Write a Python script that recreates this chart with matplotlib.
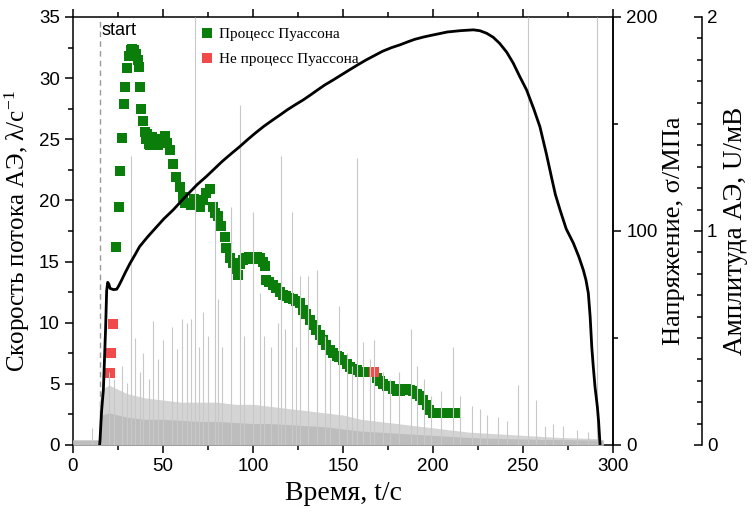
import numpy as np
import matplotlib.pyplot as plt
from matplotlib.ticker import MultipleLocator

plt.rcParams['font.family'] = ['Liberation Sans', 'DejaVu Sans']
plt.rcParams['mathtext.fontset'] = 'custom'
plt.rcParams['mathtext.rm'] = 'Liberation Serif'
plt.rcParams['mathtext.it'] = 'Liberation Serif:italic'

SERIF = ['Liberation Serif', 'DejaVu Serif']

# Poisson process flow rate (t, rate)
poisson_t = [24.1, 25.4, 26.1, 27.2, 28.3, 29.1, 30.2, 31.0, 32.0, 33.0, 34.0, 35.0, 36.0,
             36.7, 37.4, 38.0, 38.9, 39.8, 40.8, 41.0, 42.0, 43.0, 44.0, 44.5, 46.0, 47.5,
             48.0, 49.0, 50.5, 51.0, 52.0, 53.7, 55.6, 57.4, 59.3, 61.1, 62.5, 63.9, 65.5,
             67.0, 68.5, 70.4, 72.0, 74.0, 76.0, 77.8, 79.0, 80.6, 82.4, 84.3, 85.2, 87.0,
             88.9, 90.5, 91.7, 93.0, 94.4, 96.0, 98.0, 100.0, 102.0, 104.0, 105.5, 106.7,
             107.4, 109.0, 111.0, 113.0, 115.0, 116.7, 118.5, 120.0, 122.0, 124.0, 126.0,
             127.8, 129.5, 131.5, 133.3, 135.2, 137.0, 138.9, 140.7, 142.6, 144.5, 146.5,
             148.0, 150.0, 152.0, 153.7, 155.5, 157.6, 159.5, 161.3, 163.0, 165.0, 168.8,
             170.6, 172.4, 174.2, 176.0, 178.0, 180.0, 181.7, 183.5, 185.4, 187.2, 189.0,
             190.9, 192.7, 194.6, 196.5, 198.0, 200.0, 201.8, 203.7, 205.7, 210.2, 212.0]
poisson_rate = [16.2, 19.5, 22.4, 25.1, 27.9, 29.3, 30.8, 31.8, 32.3, 32.4, 32.3, 32.0, 31.5,
                30.9, 29.3, 27.5, 26.5, 25.6, 25.0, 25.4, 24.6, 24.5, 25.2, 24.8, 24.6, 24.5,
                25.0, 24.9, 25.0, 25.3, 24.7, 24.1, 23.0, 21.9, 21.1, 20.3, 19.8, 19.8, 19.6,
                20.1, 19.8, 19.5, 20.0, 20.6, 20.9, 19.5, 19.0, 18.7, 17.9, 17.0, 16.1, 15.3,
                14.9, 14.4, 13.9, 14.8, 15.1, 15.3, 15.4, 15.2, 15.4, 15.3, 15.0, 14.6,
                13.5, 13.3, 13.1, 12.8, 12.5, 12.3, 12.2, 12.0, 11.9, 11.8, 11.6,
                11.0, 10.7, 10.2, 9.8, 9.4, 9.0, 8.6, 8.2, 7.8, 7.5, 7.3,
                7.2, 6.95, 6.6, 6.4, 6.2, 6.1, 6.0, 6.0, 6.0, 6.0, 5.5,
                5.2, 5.0, 4.8, 4.8, 4.6, 4.4, 4.4, 4.6, 4.6, 4.5, 4.4,
                4.2, 4.0, 3.7, 3.3, 2.9, 2.6, 2.6, 2.6, 2.6, 2.6, 2.6]

# non-Poisson points
nonpoisson_t = [20.4, 21.3, 22.0, 167.2]
nonpoisson_rate = [5.9, 7.5, 9.9, 6.0]

# stress curve (t, MPa)
stress_t = [14.8, 15.0, 15.9, 16.9, 18.1, 18.7, 19.3, 20.0, 20.6, 22.5, 24.3, 25.5, 27.0,
            29.0, 31.7, 34.0, 37.0, 41.5, 46.0, 50.5, 55.6, 60.0, 64.5, 69.0, 74.0, 78.5,
            83.0, 88.0, 92.6, 97.0, 101.5, 106.0, 111.0, 115.0, 119.0, 123.5, 127.8,
            132.0, 136.0, 140.0, 144.6, 149.0, 154.0, 158.5, 163.0, 167.5, 172.0, 177.0,
            181.7, 186.0, 190.0, 195.0, 200.0, 208.0, 215.0, 222.4, 226.0, 229.8, 233.5,
            237.0, 241.0, 244.6, 248.0, 252.0, 256.0, 259.4, 263.0, 266.0, 268.0, 270.6,
            274.0, 278.0, 281.0, 283.5, 285.0, 286.3, 287.3, 288.2, 289.0, 290.0, 291.3,
            292.0, 292.4, 292.8]
stress = [0, 2, 16, 26, 54, 72, 76, 75, 73.2, 72.6, 72.8, 74.5, 77,
          80.5, 84.9, 88.2, 92.7, 97.3, 101.5, 105.7, 109.8, 113.8, 117.8, 121.7, 125.4,
          129.0, 132.6, 136.2, 139.4, 142.7, 145.9, 148.9, 151.9, 154.2, 156.6, 159.0,
          161.2, 163.6, 166.0, 168.3, 170.6, 172.9, 175.5, 177.8, 180.0, 182.0, 184.0,
          185.7, 187.0, 188.4, 189.6, 190.7, 191.6, 193.0, 193.6, 194.0, 193.6, 192.4,
          190.5, 187.7, 183.5, 178.4, 172.5, 165.9, 157.0, 148.7, 136.0, 124.5, 117.0,
          109.8, 101.0, 94.3, 88.0, 81.8, 77.0, 70.9, 60.0, 45.9, 37.0, 27.2, 17.9,
          11.0, 5.5, 0]

# AE amplitude: dense background band (t, mV) and individual hits (t, mV)
band_t = [0, 14.5, 14.6, 16, 20, 25, 30, 40, 50, 60, 70, 80, 90, 100, 110, 120, 130,
          140, 150, 160, 170, 180, 190, 200, 210, 220, 230, 240, 250, 260, 270, 280,
          290, 294.5, 294.6]
band_low = [0.022, 0.022, 0.10, 0.14, 0.15, 0.14, 0.13, 0.12, 0.12, 0.115, 0.11, 0.11,
            0.105, 0.10, 0.10, 0.095, 0.09, 0.085, 0.075, 0.065, 0.06, 0.055, 0.05, 0.045,
            0.04, 0.035, 0.032, 0.03, 0.028, 0.026, 0.025, 0.024, 0.023, 0.022, 0]
band_high = [0.025, 0.025, 0.20, 0.26, 0.28, 0.26, 0.24, 0.22, 0.21, 0.20, 0.20, 0.20,
             0.19, 0.19, 0.18, 0.17, 0.16, 0.15, 0.14, 0.12, 0.11, 0.10, 0.09, 0.08,
             0.07, 0.06, 0.055, 0.05, 0.045, 0.04, 0.035, 0.033, 0.03, 0.025, 0]
hit_t = [10.4, 20.0, 23.0, 27.0, 30.0, 32.2, 34.4, 37.0, 39.0, 42.0, 44.6, 47.0, 50.0,
         54.8, 58.0, 60.4, 63.5, 65.7, 67.8, 70.0, 72.4, 75.0, 79.0, 80.6, 83.0, 88.0,
         92.8, 95.0, 100.0, 104.0, 106.0, 110.0, 114.0, 115.5, 118.0, 121.5, 124.0,
         126.0, 130.6, 135.4, 140.0, 143.0, 148.0, 152.0, 155.0, 158.0, 161.3, 165.0,
         167.4, 172.0, 176.0, 181.0, 187.8, 190.9, 195.0, 199.0, 204.6, 211.0, 215.0,
         221.5, 226.0, 230.0, 236.0, 241.0, 247.4, 253.0, 257.0, 262.0, 266.8, 272.0,
         280.0, 286.0, 290.9]
hit_amp = [0.08, 0.34, 0.31, 0.37, 0.29, 1.35, 0.50, 0.34, 0.43, 0.31, 0.58, 0.40, 0.49,
           0.55, 0.45, 0.59, 0.57, 0.59, 2.0, 0.46, 0.62, 0.51, 1.14, 0.68, 0.46, 1.11,
           1.59, 0.51, 1.09, 0.71, 0.51, 0.46, 0.57, 1.35, 0.54, 1.09, 0.46,
           0.79, 0.79, 0.82, 0.51, 0.40, 0.65, 0.43, 0.37, 1.34, 0.48, 0.40,
           0.49, 0.34, 0.31, 0.34, 0.54, 0.37, 0.31, 0.23, 0.25, 0.46, 0.23,
           0.18, 0.17, 0.14, 0.13, 0.11, 0.28, 2.0, 0.21, 0.09, 0.10, 0.09,
           0.07, 0.06, 2.0]

start_t = 14.8

fig = plt.figure(figsize=(7.54, 5.12), dpi=100)
ax = fig.add_axes([0.0968, 0.1309, 0.7162, 0.8359])
ax3 = ax.twinx()
ax2 = ax.twinx()
ax.set_zorder(1)
ax3.set_zorder(2)
ax2.set_zorder(3)

green = '#0b7d0b'
red = '#f04a4a'
grey = '#bdbdbd'

ax.plot(poisson_t, poisson_rate, 's', color=green, ms=6.5, mew=0, label='Процесс Пуассона')
ax.plot(nonpoisson_t, nonpoisson_rate, 's', color=red, ms=6.5, mew=0, label='Не процесс Пуассона')
ax.axvline(start_t, color='#9a9a9a', lw=1, ls=(0, (4, 3)))
ax.text(start_t + 0.8, 33.9, 'start', fontsize=13, va='center', ha='left')

ax3.fill_between(band_t, 0, band_high, color='#d4d4d4', lw=0)
ax3.fill_between(band_t, 0, band_low, color=grey, lw=0)
ax3.vlines(hit_t, 0, hit_amp, color='#c8c8c8', lw=0.8)

ax2.plot(stress_t, stress, color='black', lw=2)

ax.set_xlim(0, 300)
ax.set_ylim(0, 35)
ax2.set_ylim(0, 200)
ax3.set_ylim(0, 2)

ax.xaxis.set_major_locator(MultipleLocator(50))
ax.xaxis.set_minor_locator(MultipleLocator(25))
ax.yaxis.set_major_locator(MultipleLocator(5))
ax.yaxis.set_minor_locator(MultipleLocator(2.5))
ax2.yaxis.set_major_locator(MultipleLocator(100))
ax2.yaxis.set_minor_locator(MultipleLocator(50))
ax3.yaxis.set_major_locator(MultipleLocator(1))
ax3.yaxis.set_minor_locator(MultipleLocator(0.1))

ax.tick_params(which='both', direction='out', top=True, right=False, labelsize=13.5, width=1.1)
ax.tick_params(which='major', length=6)
ax.tick_params(which='minor', length=3.5)
ax2.tick_params(which='both', direction='out', labelsize=13.5, width=1.1)
ax2.tick_params(which='major', length=6)
ax2.tick_params(which='minor', length=3.5)
ax3.tick_params(which='both', direction='in', labelsize=13.5, width=1.1)
ax3.tick_params(which='major', length=6)
ax3.tick_params(which='minor', length=3.5)

ax3.spines['right'].set_position(('axes', 1.165))
for a in (ax2, ax3):
    for s in ('left', 'top', 'bottom'):
        a.spines[s].set_visible(False)
for a in (ax, ax2, ax3):
    for s in a.spines.values():
        s.set_linewidth(1.1)

ax.set_xlabel('Время, t/c', fontsize=20, family=SERIF, labelpad=4)
ax.set_ylabel(r'Скорость потока АЭ, λ/c$^{\mathregular{-1}}$', fontsize=18, family=SERIF, labelpad=5)
ax2.set_ylabel('Напряжение, σ/МПа', fontsize=19, family=SERIF, labelpad=4)
ax3.set_ylabel('Амплитуда АЭ, U/мВ', fontsize=19.5, family=SERIF, labelpad=4)

ax.legend(loc='upper left', bbox_to_anchor=(0.225, 0.99), frameon=False,
          prop={'family': SERIF, 'size': 11}, handlelength=0.8, handletextpad=0.4,
          labelspacing=0.75, borderaxespad=0)

fig.savefig('out.png', dpi=100)
